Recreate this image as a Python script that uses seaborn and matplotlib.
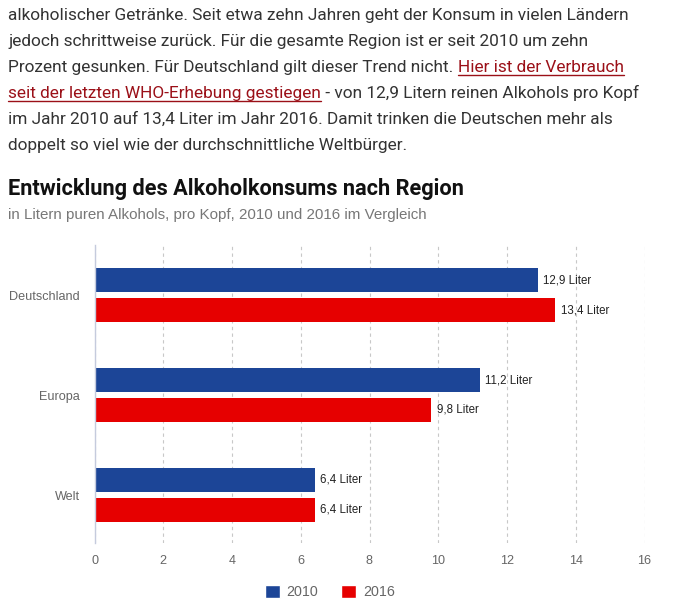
import matplotlib
matplotlib.use('Agg')
import matplotlib.pyplot as plt
from matplotlib.lines import Line2D
from matplotlib.patches import Patch
import seaborn as sns
import pandas as pd

# Werte aus der Grafik (Liter reiner Alkohol pro Kopf)
regionen = ['Deutschland', 'Europa', 'Welt']
werte_2010 = [12.9, 11.2, 6.4]
werte_2016 = [13.4, 9.8, 6.4]
jahre = ['2010', '2016']
x_ticks = [0, 2, 4, 6, 8, 10, 12, 14, 16]

blau = '#1c4597'
rot = '#e60000'

df = pd.DataFrame({
    'Region': regionen * 2,
    'Liter': werte_2010 + werte_2016,
    'Jahr': [jahre[0]] * 3 + [jahre[1]] * 3,
})

sns.set_style('white')
plt.rcParams['font.family'] = ['Liberation Sans', 'DejaVu Sans']

W, H = 688, 610
fig = plt.figure(figsize=(W / 100, H / 100), dpi=100)
fig.patch.set_facecolor('white')
renderer = fig.canvas.get_renderer()


def fit_size(text, family, target_px, weight='normal'):
    # Schriftgroesse so waehlen, dass der Text die Breite aus dem Original hat
    t = fig.text(0, 0, text, fontsize=10, family=family, fontweight=weight)
    w = t.get_window_extent(renderer).width
    t.remove()
    return 10 * target_px / w


# Fliesstext oberhalb der Grafik
body_font = ['Roboto', 'DejaVu Sans']
text_col = '#333333'
link_col = '#9b1018'
zeilen = [
    [('alkoholischer Getränke. Seit etwa zehn Jahren geht der Konsum in vielen Ländern', False)],
    [('jedoch schrittweise zurück. Für die gesamte Region ist er seit 2010 um zehn', False)],
    [('Prozent gesunken. Für Deutschland gilt dieser Trend nicht. ', False), ('Hier ist der Verbrauch', True)],
    [('seit der letzten WHO-Erhebung gestiegen', True), (' - von 12,9 Litern reinen Alkohols pro Kopf', False)],
    [('im Jahr 2010 auf 13,4 Liter im Jahr 2016. Damit trinken die Deutschen mehr als', False)],
    [('doppelt so viel wie der durchschnittliche Weltbürger.', False)],
]
body_size = fit_size(zeilen[0][0][0], body_font, 624)
baseline = 20
for zeile in zeilen:
    x = 8
    for teil, link in zeile:
        t = fig.text(x / W, 1 - baseline / H, teil, fontsize=body_size, family=body_font,
                     color=link_col if link else text_col, va='baseline', ha='left')
        bb = t.get_window_extent(renderer)
        if link:
            uy = 1 - (baseline + 3) / H
            fig.add_artist(Line2D([bb.x0 / W, bb.x1 / W], [uy, uy], color=link_col, lw=1.0,
                                  transform=fig.transFigure))
        x = bb.x1
    baseline += 26

titel = 'Entwicklung des Alkoholkonsums nach Region'
title_font = ['Roboto', 'DejaVu Sans']
fig.text(8 / W, 1 - 195 / H, titel, fontsize=fit_size(titel, title_font, 455, 'bold'),
         fontweight='bold', family=title_font, color='#111111', va='baseline')
fig.text(8 / W, 1 - 219 / H, 'in Litern puren Alkohols, pro Kopf, 2010 und 2016 im Vergleich',
         fontsize=10.9, color='#777777', va='baseline')

# Balkendiagramm
ax = fig.add_axes([94.5 / W, 1 - 543 / H, 550 / W, 298 / H])
sns.barplot(data=df, y='Region', x='Liter', hue='Jahr', palette=[blau, rot], orient='h',
            width=0.6, gap=0.233, saturation=1, linewidth=0, legend=False, ax=ax)

for cont in ax.containers:
    labels = [f'{v:.1f}'.replace('.', ',') + ' Liter' for v in cont.datavalues]
    ax.bar_label(cont, labels=labels, padding=4, fontsize=8.3, color='#222222')

ax.set_xlim(0, 16)
ax.set_ylim(2.48, -0.5)
ax.set_xticks(x_ticks)
ax.set_xlabel('')
ax.set_ylabel('')
ax.set_axisbelow(True)
ax.xaxis.grid(True, color='#c8c8c8', linestyle=(0, (3, 3)), linewidth=0.8)
for s in ['top', 'right', 'bottom']:
    ax.spines[s].set_visible(False)
ax.spines['left'].set_color('#c5cbdd')
ax.spines['left'].set_linewidth(1.0)
ax.tick_params(axis='both', length=0, labelsize=9.1, labelcolor='#666666')
ax.tick_params(axis='y', pad=10.4)
ax.tick_params(axis='x', pad=9)

handles = [Patch(facecolor=blau, label=jahre[0]), Patch(facecolor=rot, label=jahre[1])]
leg = fig.legend(handles=handles, loc='center', bbox_to_anchor=(330 / W, 1 - 592 / H), ncol=2,
                 frameon=False, handlelength=1.05, handleheight=1.05, handletextpad=0.5,
                 columnspacing=1.6, fontsize=10.3)
for t in leg.get_texts():
    t.set_color('#666666')

fig.savefig('out.png', dpi=100, facecolor='white')
